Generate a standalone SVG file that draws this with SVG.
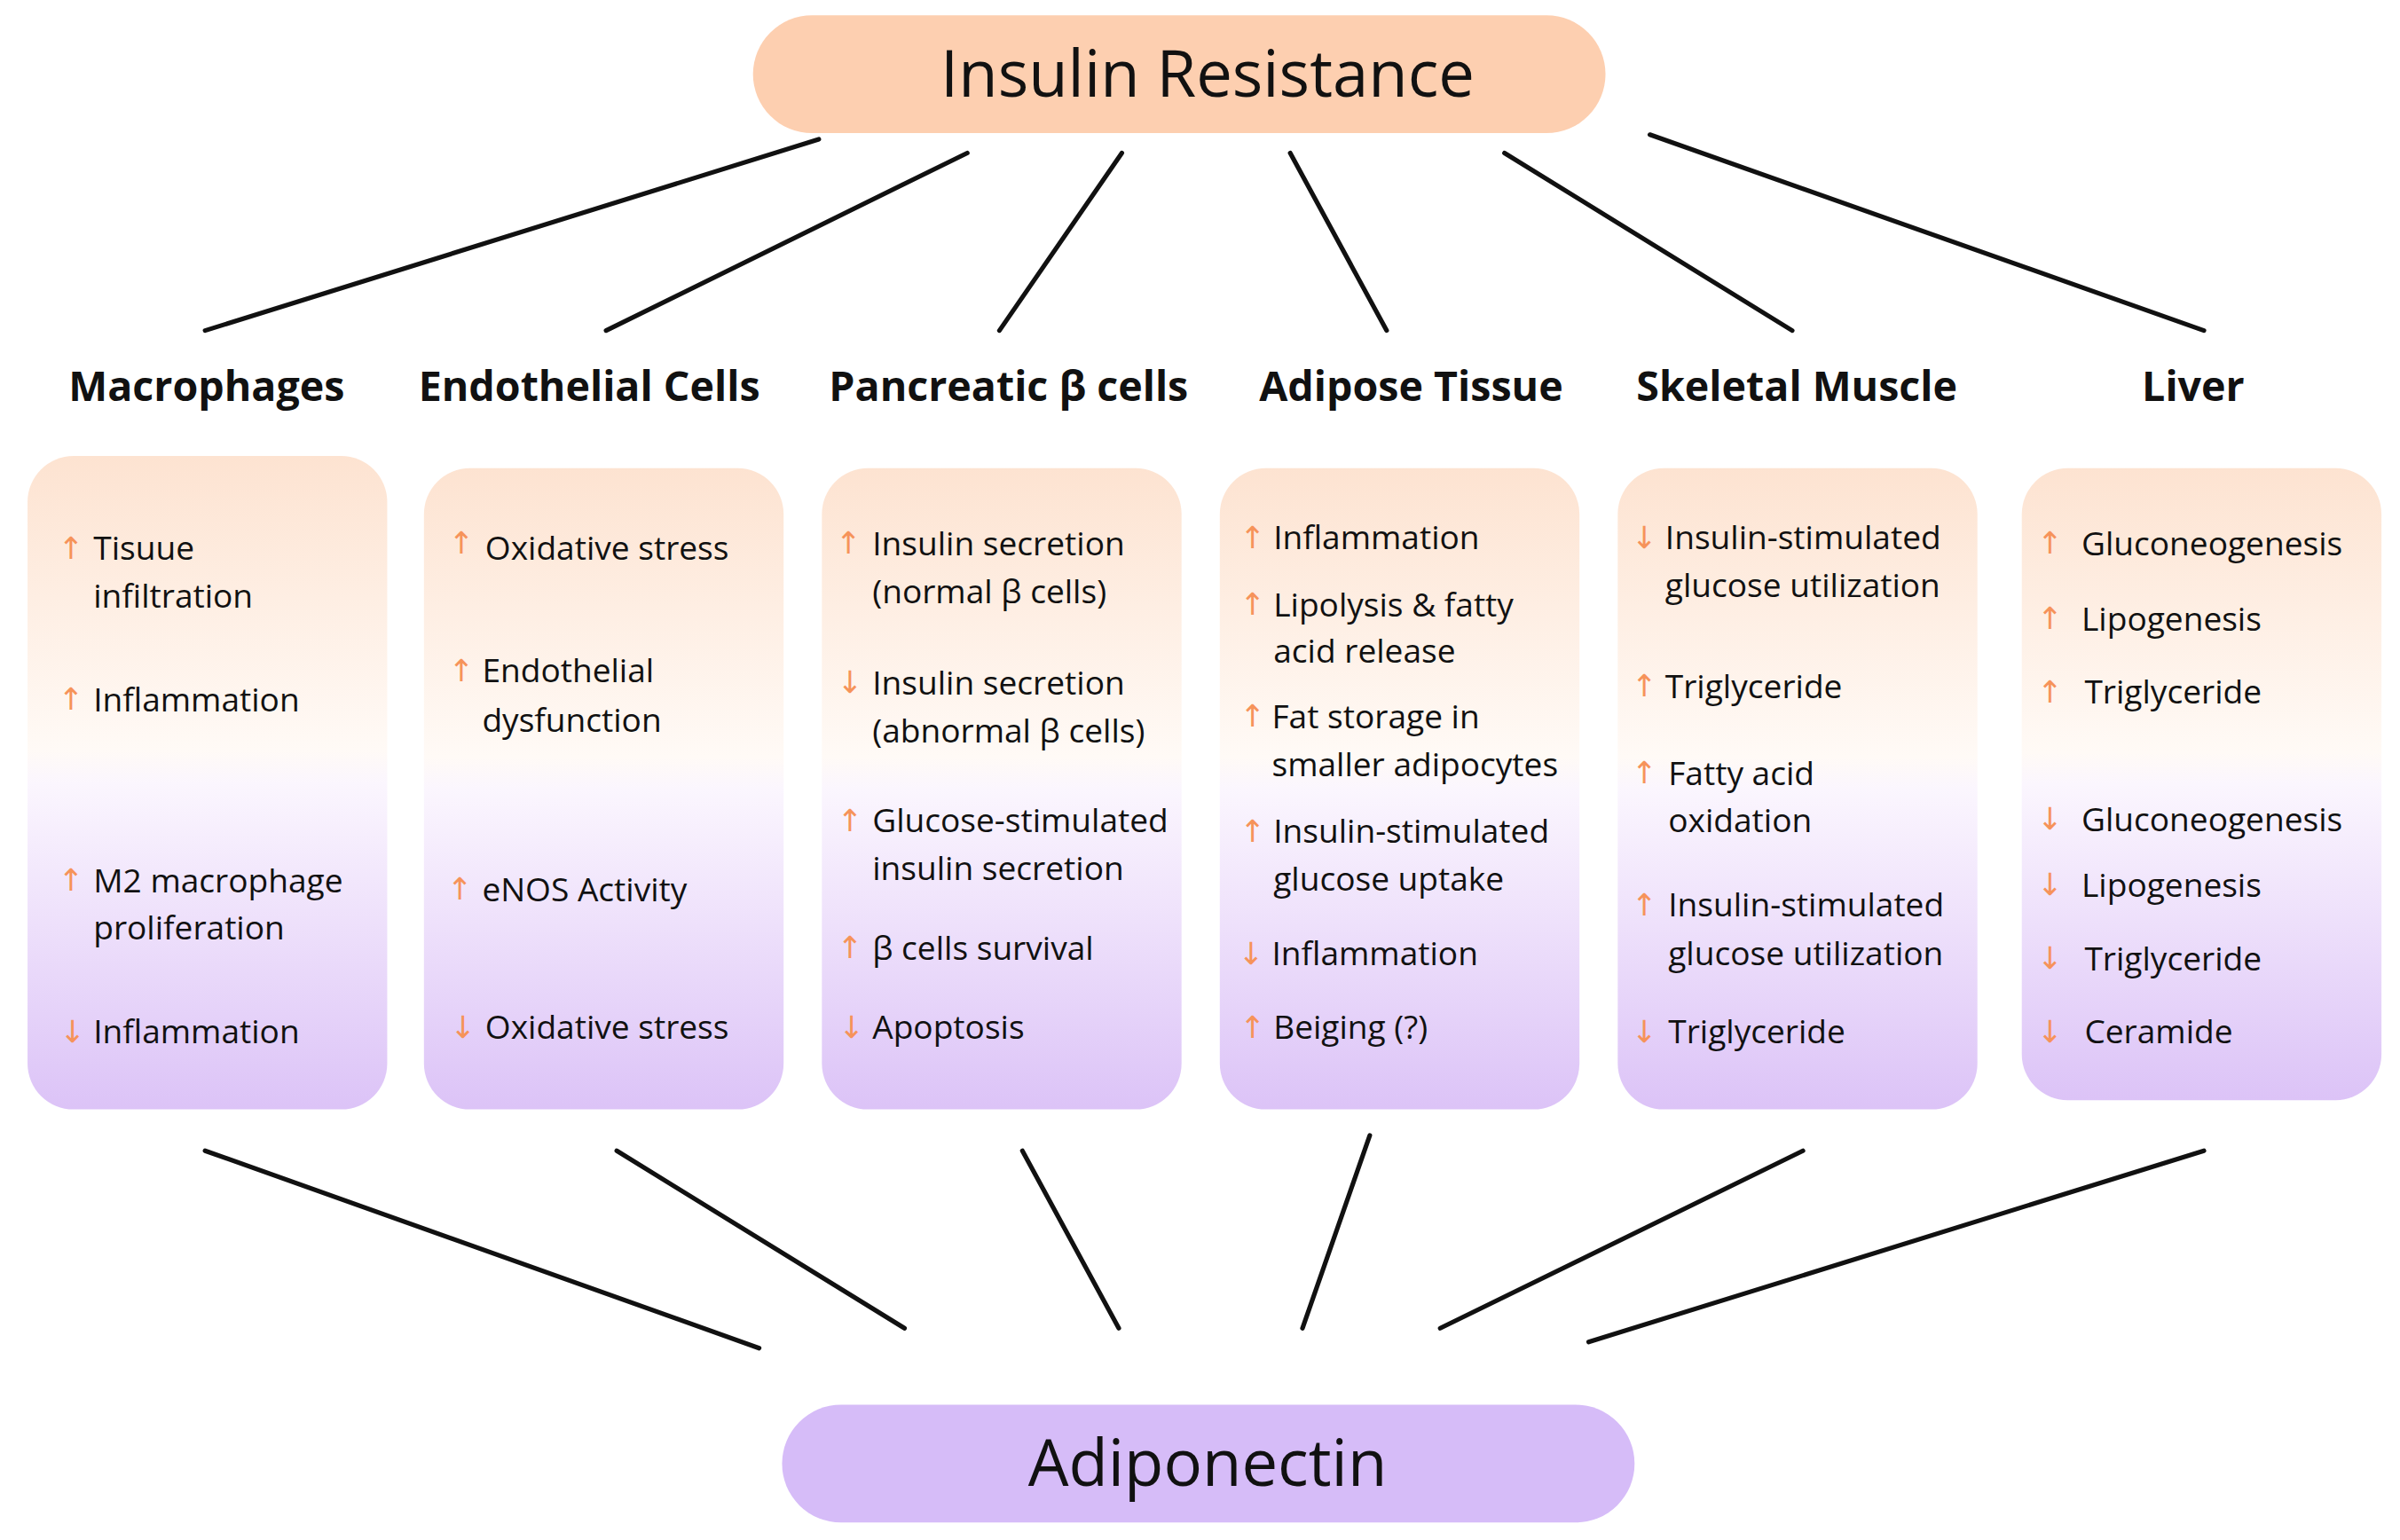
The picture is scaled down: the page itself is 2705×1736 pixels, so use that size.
<svg xmlns="http://www.w3.org/2000/svg" width="2705" height="1736" viewBox="0 0 2705 1736">
<defs>
<linearGradient id="bg" x1="0" y1="0" x2="0" y2="1">
<stop offset="0" stop-color="#fde3d1"/>
<stop offset="0.45" stop-color="#fffaf6"/>
<stop offset="0.5" stop-color="#fbf6fe"/>
<stop offset="1" stop-color="#dcc3f7"/>
</linearGradient>
<style>
.box{fill:url(#bg)}
.ln{stroke:#111;stroke-width:3;stroke-linecap:round}
text{font-family:"Open Sans","Noto Sans","DejaVu Sans",sans-serif;fill:#111}
.it{font-size:21.5px}
.hd{font-size:27px;font-weight:bold;text-anchor:middle}
.ti{font-size:42px;text-anchor:middle}
.ar{font-family:"DejaVu Sans",sans-serif;font-size:20px;fill:#f6935a}
</style>
</defs>
<rect width="2705" height="1736" fill="#fff"/>
<g transform="scale(1.725)">
<g id="connectors">
<line class="ln" x1="535" y1="91" x2="134" y2="216"/>
<line class="ln" x1="632" y1="100" x2="396" y2="216"/>
<line class="ln" x1="733" y1="100" x2="653" y2="216"/>
<line class="ln" x1="843" y1="100" x2="906" y2="216"/>
<line class="ln" x1="983" y1="100" x2="1171" y2="216"/>
<line class="ln" x1="1078" y1="88" x2="1440" y2="216"/>
<line class="ln" x1="134" y1="752" x2="496" y2="881"/>
<line class="ln" x1="403" y1="752" x2="591" y2="868"/>
<line class="ln" x1="668" y1="752" x2="731" y2="868"/>
<line class="ln" x1="895" y1="742" x2="851" y2="868"/>
<line class="ln" x1="1178" y1="752" x2="941" y2="868"/>
<line class="ln" x1="1440" y1="752" x2="1038" y2="877"/>
</g>
<g id="insulin-resistance">
<rect x="492" y="10" width="557" height="77" rx="38.5" fill="#fdcfb0"/>
<text class="ti" x="789" y="63">Insulin Resistance</text>
</g>
<g id="adiponectin">
<rect x="511" y="918" width="557" height="77" rx="38.5" fill="#d6bcf8"/>
<text class="ti" x="789" y="971">Adiponectin</text>
</g>
<g id="macrophages">
<text class="hd" x="135" y="262">Macrophages</text>
<rect class="box" x="18" y="298" width="235" height="427" rx="30"/>
<text class="ar" x="38" y="365">↑</text><text class="it" x="61" y="366">Tisuue</text>
<text class="it" x="61" y="397">infiltration</text>
<text class="ar" x="38" y="464">↑</text><text class="it" x="61" y="465">Inflammation</text>
<text class="ar" x="38" y="582">↑</text><text class="it" x="61" y="583">M2 macrophage</text>
<text class="it" x="61" y="614">proliferation</text>
<text class="ar" x="39" y="681">↓</text><text class="it" x="61" y="682">Inflammation</text>
</g>
<g id="endothelial">
<text class="hd" x="385" y="262">Endothelial Cells</text>
<rect class="box" x="277" y="306" width="235" height="419" rx="30"/>
<text class="ar" x="293" y="362">↑</text><text class="it" x="317" y="366">Oxidative stress</text>
<text class="ar" x="293" y="445">↑</text><text class="it" x="315" y="446">Endothelial</text>
<text class="it" x="315" y="478">dysfunction</text>
<text class="ar" x="292" y="588">↑</text><text class="it" x="315" y="589">eNOS Activity</text>
<text class="ar" x="294" y="678">↓</text><text class="it" x="317" y="679">Oxidative stress</text>
</g>
<g id="pancreatic">
<text class="hd" x="659" y="262">Pancreatic β cells</text>
<rect class="box" x="537" y="306" width="235" height="419" rx="30"/>
<text class="ar" x="546" y="362">↑</text><text class="it" x="570" y="363">Insulin secretion</text>
<text class="it" x="570" y="394">(normal β cells)</text>
<text class="ar" x="547" y="453">↓</text><text class="it" x="570" y="454">Insulin secretion</text>
<text class="it" x="570" y="485">(abnormal β cells)</text>
<text class="ar" x="547" y="543">↑</text><text class="it" x="570" y="544">Glucose-stimulated</text>
<text class="it" x="570" y="575">insulin secretion</text>
<text class="ar" x="547" y="626">↑</text><text class="it" x="570" y="627">β cells survival</text>
<text class="ar" x="548" y="678">↓</text><text class="it" x="570" y="679">Apoptosis</text>
</g>
<g id="adipose">
<text class="hd" x="922" y="262">Adipose Tissue</text>
<rect class="box" x="797" y="306" width="235" height="419" rx="30"/>
<text class="ar" x="810" y="358">↑</text><text class="it" x="832" y="359">Inflammation</text>
<text class="ar" x="810" y="402">↑</text><text class="it" x="832" y="403">Lipolysis &amp; fatty</text>
<text class="it" x="832" y="433">acid release</text>
<text class="ar" x="810" y="475">↑</text><text class="it" x="831" y="476">Fat storage in</text>
<text class="it" x="831" y="507">smaller adipocytes</text>
<text class="ar" x="810" y="550">↑</text><text class="it" x="832" y="551">Insulin-stimulated</text>
<text class="it" x="832" y="582">glucose uptake</text>
<text class="ar" x="809" y="630">↓</text><text class="it" x="831" y="631">Inflammation</text>
<text class="ar" x="810" y="678">↑</text><text class="it" x="832" y="679">Beiging (?)</text>
</g>
<g id="skeletal">
<text class="hd" x="1174" y="262">Skeletal Muscle</text>
<rect class="box" x="1057" y="306" width="235" height="419" rx="30"/>
<text class="ar" x="1066" y="358">↓</text><text class="it" x="1088" y="359">Insulin-stimulated</text>
<text class="it" x="1088" y="390">glucose utilization</text>
<text class="ar" x="1066" y="455">↑</text><text class="it" x="1088" y="456">Triglyceride</text>
<text class="ar" x="1066" y="512">↑</text><text class="it" x="1090" y="513">Fatty acid</text>
<text class="it" x="1090" y="544">oxidation</text>
<text class="ar" x="1066" y="598">↑</text><text class="it" x="1090" y="599">Insulin-stimulated</text>
<text class="it" x="1090" y="631">glucose utilization</text>
<text class="ar" x="1066" y="681">↓</text><text class="it" x="1090" y="682">Triglyceride</text>
</g>
<g id="liver">
<text class="hd" x="1433" y="262">Liver</text>
<rect class="box" x="1321" y="306" width="235" height="413" rx="30"/>
<text class="ar" x="1331" y="362">↑</text><text class="it" x="1360" y="363">Gluconeogenesis</text>
<text class="ar" x="1331" y="411">↑</text><text class="it" x="1360" y="412">Lipogenesis</text>
<text class="ar" x="1331" y="459">↑</text><text class="it" x="1362" y="460">Triglyceride</text>
<text class="ar" x="1331" y="542">↓</text><text class="it" x="1360" y="543">Gluconeogenesis</text>
<text class="ar" x="1331" y="585">↓</text><text class="it" x="1360" y="586">Lipogenesis</text>
<text class="ar" x="1331" y="633">↓</text><text class="it" x="1362" y="634">Triglyceride</text>
<text class="ar" x="1331" y="681">↓</text><text class="it" x="1362" y="682">Ceramide</text>
</g>
</g>
</svg>
